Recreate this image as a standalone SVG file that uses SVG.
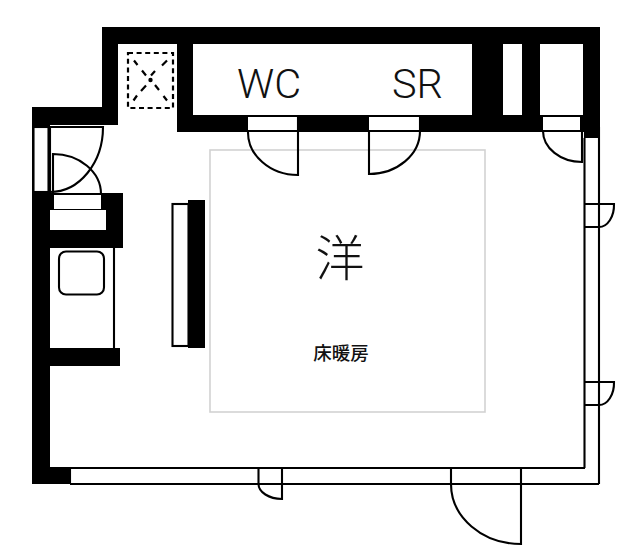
<svg xmlns="http://www.w3.org/2000/svg" width="640" height="550" viewBox="0 0 640 550">
<style>
.w{fill:#000;stroke:none}
.o{fill:#fff;stroke:none}
.l{fill:none;stroke:#000;stroke-width:2.1}
.d{fill:none;stroke:#000;stroke-width:2.2;stroke-dasharray:5 3.6}
.x{fill:none;stroke:#000;stroke-width:2.2}
.lat{font-family:"Roboto","Liberation Sans",sans-serif;font-weight:300;fill:#111;text-anchor:middle}
.cjk{font-family:"Noto Sans CJK JP",sans-serif;fill:#111;text-anchor:middle}
</style>
<rect width="640" height="550" fill="#fff"/>
<g id="walls">
<path class="w" d="M32 107H102V27H600V138H584V132H177V44H118V125H50V484H32Z"/>
<rect class="w" x="32" y="468" width="38" height="16"/>
<rect class="o" x="193" y="44" width="279" height="71"/>
<rect class="o" x="503" y="44" width="19" height="71"/>
<rect class="o" x="540" y="44" width="43" height="71"/>
<path class="w" d="M50 193H123V248H50Z"/>
<rect class="o" x="54" y="194" width="47" height="15"/>
<rect class="o" x="50" y="210" width="56" height="20"/>
<rect class="w" x="50" y="348" width="70" height="18"/>
<rect class="w" x="188" y="200" width="17" height="148"/>
</g>
<g id="floor-area"><rect x="210" y="150" width="275" height="262" fill="none" stroke="#d2d2d2" stroke-width="1.6"/></g>
<g id="vent">
<rect class="d" x="128" y="53" width="45" height="55"/>
<path class="x" d="M134 60.500L137.500 65M142 70.500L146 75.500M155 85L159 90M163.500 96L167 100.500M167 60.500L162 65.500M155 71L151 75.500M146 85.500L141 91M137 95.500L133.500 100.500"/>
<circle cx="150.500" cy="80" r="2.200" fill="#000"/>
</g>
<g id="entrance">
<rect class="o" x="33" y="126" width="15" height="66"/>
<rect class="l" x="33.500" y="127" width="15" height="65"/>
<path class="l" d="M49 127H103A53 65 0 0 1 50 192V127"/>
<path class="l" d="M53 193V154A48 40 0 0 1 101 194M50 194H101"/>
</g>
<g id="wc-door">
<rect class="o" x="248" y="115" width="50" height="16"/>
<path class="l" d="M248 116H298V175A50 43 0 0 1 248 131H298"/>
</g>
<g id="sr-door">
<rect class="o" x="369" y="115" width="51" height="16"/>
<path class="l" d="M369 116H420V131H369V174A51 43 0 0 0 420 131"/>
</g>
<g id="closet-door">
<rect class="o" x="543" y="116" width="37" height="15"/>
<path class="l" d="M543 116H580M543 131H582M582 131V162A39 31 0 0 1 543 131"/>
</g>
<g id="right-window">
<path class="l" d="M584.500 138V468M599 127V484"/>
<path class="l" d="M584 204H614A15 22 0 0 1 599 227H584"/>
<path class="l" d="M584 382H614A15 22 0 0 1 599 405H584"/>
</g>
<g id="bottom-window">
<path class="l" d="M50 468H585M70 484H599M70 468V484"/>
<path class="l" d="M258.500 468V484A24 15 0 0 0 282 499V468"/>
<path class="l" d="M451 468V484A70 60 0 0 0 521 544V468"/>
</g>
<g id="kitchen">
<path class="l" d="M114 248V348"/>
<rect class="l" x="59" y="251.500" width="45" height="43" rx="7"/>
</g>
<g id="closet"><rect class="l" x="172.500" y="204" width="16" height="142"/></g>
<g id="labels">
<text class="lat" x="269" y="98" font-size="41.500">WC</text>
<text class="lat" x="417.500" y="98" font-size="41.500">SR</text>
<text class="cjk" x="340" y="276" font-size="49" font-weight="300">洋</text>
<text class="cjk" x="341" y="360" font-size="18.500" font-weight="500">床暖房</text>
</g>
</svg>
